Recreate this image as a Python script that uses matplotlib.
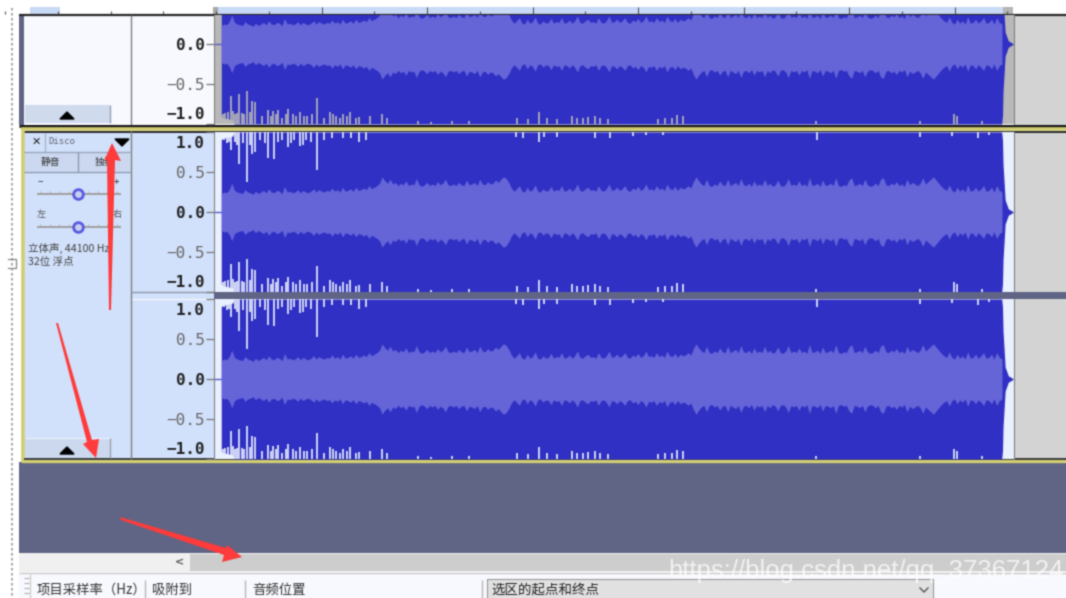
import numpy as np
import matplotlib
matplotlib.use('Agg')
import matplotlib.pyplot as plt
from matplotlib.patches import Rectangle, Polygon
from matplotlib.transforms import Affine2D

plt.rcParams['font.family'] = ['Noto Sans CJK SC', 'DejaVu Sans']

# 音量包络 (rms), 每 0.25 秒一个值
rms_amp = [
    .23, .25, .24, .28, .36, .27, .25, .24, .23, .28, .25, .24, .22, .26, .23, .25,
    .27, .24, .29, .25, .24, .27, .26, .23, .32, .25, .26, .24, .25, .28, .24, .27,
    .25, .24, .26, .29, .25, .28, .26, .25, .27, .26, .30, .26, .28, .25, .31, .26,
    .27, .29, .26, .31, .27, .28, .30, .28, .33, .29, .31,
    .33, .36, .44, .39, .36, .41, .35, .37, .33, .36, .34, .39, .33, .35, .34, .42,
    .34, .32, .34, .37, .33, .35, .33, .38, .34, .36, .41, .34, .33, .35, .33, .37,
    .34, .33, .40, .34, .35, .37, .33, .41, .35, .34, .38, .35, .36, .40, .37, .41,
    .44, .42,
    .37, .30, .26, .29, .33, .26, .25, .31, .26, .28, .34, .26, .25, .29, .26, .27,
    .32, .26, .28, .27, .33, .26, .27, .30, .26, .29, .35, .27, .26, .29, .31, .27,
    .28, .26, .33, .27, .26, .29, .35, .27, .28, .31, .27, .29, .33, .27, .26, .30,
    .28, .32, .27, .29, .35, .28, .29, .27, .33, .28, .30, .27, .35, .29, .28, .32,
    .27, .31, .29, .30, .33, .30,
    .38, .44, .39, .35, .33, .41, .33, .32, .35, .33, .39, .34, .33, .41, .33, .35,
    .37, .33, .42, .34, .33, .36, .32, .39, .33, .35, .33, .41, .33, .36, .32, .34,
    .40, .33, .32, .35, .42, .33, .35, .33, .39, .33, .35, .32, .43, .33, .34, .36,
    .32, .40, .33, .34, .36, .33, .43, .33, .32, .34, .33, .40, .43, .33, .34, .36,
    .33, .41, .34, .32, .33, .36, .33, .41, .43, .34, .33, .36, .34, .38, .33, .35,
    .32, .41, .34, .37, .35, .33, .36, .43, .35, .38, .41, .44, .40, .36, .32, .29,
    .27, .34, .27, .25, .31, .26, .29, .25, .34, .26, .27, .31, .26, .29, .33, .26,
    .27, .31, .25, .33, .27, .25,
]
rms_time = 0.5 + 0.25 * np.arange(len(rms_amp))

# 峰值包络
peak_time = [0.5, 0.6, 1.0, 1.6, 1.7, 74.47, 74.55, 74.6, 74.8, 75.1, 75.55]
peak_amp = [0.90, 0.92, 0.93, 0.95, 1.0, 1.0, 0.9, 0.6, 0.15, 0.04, 0.005]

# 顶部/底部的尖峰: 时间 和 尖峰到达的幅度
top_t = [0.8, 1.0, 1.2, 1.42, 1.8, 2.0, 2.2, 2.6, 2.97, 3.2, 3.4, 3.7, 4.2, 4.6, 4.96,
         5.5, 5.9, 6.3, 6.85, 7.1, 7.4, 7.96, 8.2, 8.5, 9.0, 9.54, 10.2, 11.0, 12.0,
         12.8, 13.6, 14.2,
         28.4, 29.1, 30.6, 31.1, 32.3, 35.9, 37.3, 39.5, 40.8, 42.4,
         57.0, 66.7, 69.8, 72.2, 73.3]
top_lv = [.90, .86, .88, .77, .88, .84, .60, .86, .375, .84, .73, .75, .90, .86, .675,
          .66, .88, .90, .81, .86, .90, .825, .84, .90, .88, .52, .90, .92, .92,
          .93, .88, .90,
          .94, .93, .875, .94, .94, .93, .93, .95, .96, .96,
          .90, .94, .95, .92, .96]
bot_t = [0.7, 0.9, 1.1, 1.42, 1.6, 1.8, 2.0, 2.2, 2.5, 2.7, 2.97, 3.2, 3.4, 3.7, 4.4, 4.96,
         5.2, 5.4, 5.7, 5.9, 6.3, 6.6, 6.85, 7.3, 7.6, 7.96, 8.3, 8.6, 9.1, 9.54, 10.2,
         10.8, 11.1, 11.4, 11.8, 12.0, 12.4, 12.7, 13.3, 13.6, 14.6, 15.7, 16.2,
         19.1, 20.4, 22.4, 24.0,
         28.5, 29.6, 30.6, 31.4, 32.3, 33.7, 34.2, 34.8, 35.3, 35.9, 36.4, 37.2,
         41.9, 42.6, 43.2, 43.7, 44.3,
         56.9, 66.7, 70.0, 70.2, 72.6]
bot_lv = [-.88, -.86, -.85, -.646, -.84, -.88, -.86, -.625, -.86, -.88, -.583, -.85, -.71, -.73, -.90, -.83,
          -.90, -.84, -.88, -.83, -.92, -.88, -.81, -.88, -.90, -.85, -.90, -.90, -.87, -.675, -.92,
          -.85, -.88, -.90, -.92, -.88, -.90, -.85, -.93, -.91, -.90, -.88, -.93,
          -.96, -.97, -.96, -.96,
          -.93, -.94, -.854, -.93, -.94, -.90, -.93, -.92, -.91, -.90, -.92, -.94,
          -.94, -.92, -.93, -.89, -.90,
          -.96, -.96, -.88, -.90, -.96]

y_ticks = [-1.0, -0.5, 0.0, 0.5, 1.0]
y_labels = ['\u22121.0', '\u22120.5', '0.0', '0.5', '1.0']

sel_bg = '#D2E1FB'
strip_bg = '#E9F0FE'
dark_wave = '#3030C4'
light_wave = '#6565D9'
slate = '#616585'
grey_bg = '#D3D3D3'
panel_white = '#F8F9FE'


def blur(img, dpi):
    # 原图是放大过的截图, 整张图稍微糊一点
    k = np.array([0.2, 0.6, 0.2])
    out = np.pad(img, ((2, 2), (2, 2), (0, 0)), mode='edge')
    for axis in (0, 1):
        out = np.apply_along_axis(lambda m: np.convolve(m, k, mode='same'), axis, out)
    return out[2:-2, 2:-2], 0, 0


fig = plt.figure(figsize=(10.66, 5.98), dpi=100, facecolor='white')
bg = fig.add_axes([0, 0, 1, 1], zorder=0)
bg.set_xlim(0, 1066)
bg.set_ylim(598, 0)
bg.axis('off')


def box(x0, y0, x1, y1, color, **kw):
    bg.add_patch(Rectangle((x0, y0), x1 - x0, y1 - y0, facecolor=color, edgecolor='none', **kw))


def hline(y, x0, x1, color='#222222', lw=1.0):
    bg.plot([x0, x1], [y, y], color=color, lw=lw, solid_capstyle='butt')


def vline(x, y0, y1, color='#808080', lw=1.0):
    bg.plot([x, x], [y0, y1], color=color, lw=lw, solid_capstyle='butt')


# 时间标尺
box(218, 7, 1003, 14, '#C9DAF6')
box(30, 7, 60, 14, '#C9DAF6')
for i in range(-4, 16):
    x = 216 + i * 52.75
    major = i % 2 == 0 and x > 216
    vline(x, 14, 7 if major else 11, '#555555', 0.8)
box(213, 7, 218, 14, '#A8A8A8')
box(1003, 7, 1013, 14, '#B5B5B5')
hline(14.5, 19, 1066, '#2A2A2A', 1.6)

# 上面那条轨道
box(19, 15, 24, 125, slate)
box(24, 15, 214, 125, panel_white)
vline(131, 15, 125)
box(1014, 15, 1066, 125, grey_bg)
box(25, 105, 110, 123, '#D0DAEE')
vline(110, 105, 123, '#9AA0B0')
bg.add_patch(Polygon([[60, 119], [74, 119], [67, 112]], color='black'))

# 选中的轨道
box(24, 131, 132, 460, sel_bg)
box(132, 131, 214, 460, sel_bg)
box(1014, 131, 1066, 460, grey_bg)
hline(125.5, 19, 1066, '#1A1A1A', 2.2)
hline(129, 21, 1066, '#D2CE72', 2.6)
hline(131.5, 24, 1066, '#2A2A2A', 1.4)
vline(22.5, 128, 462, '#D2CE72', 2.6)
hline(460.8, 21, 1066, '#D2CE72', 2.4)
hline(459, 24, 1066, '#222222', 1.2)
vline(131, 131, 459)

bg.text(36, 142, '\u2715', ha='center', va='center', fontsize=8, color='#222222', family=['DejaVu Sans'], weight='bold')
bg.text(48, 142, 'Disco', ha='left', va='center', fontsize=6.5, color='#666677', family=['DejaVu Sans Mono'])
bg.add_patch(Polygon([[115, 139], [129, 139], [122, 146]], color='black'))
vline(45, 133, 152, '#A8B4C8')
hline(152, 24, 131, '#9AA6BC')
hline(172, 24, 131, '#8F99AE')
vline(78, 152, 172, '#8F99AE')
box(25, 153, 78, 171, '#CBD8F0')
box(79, 153, 130, 171, '#CBD8F0')
bg.text(50, 162, '静音', ha='center', va='center', fontsize=7, color='#333333')
bg.text(104, 162, '独奏', ha='center', va='center', fontsize=7, color='#333333')

bg.text(40, 182, '\u2212', ha='center', va='center', fontsize=7, color='#333333')
bg.text(116, 182, '+', ha='center', va='center', fontsize=7, color='#333333')
bg.text(41, 215, '左', ha='center', va='center', fontsize=6.5, color='#555555')
bg.text(117, 215, '右', ha='center', va='center', fontsize=6.5, color='#555555')
for y in (194, 227):
    hline(y, 37, 121, '#A0A0A0', 1.4)
    for i in range(9):
        vline(40 + i * 9.6, y - 3, y, '#A8A8A8', 0.6)
    bg.plot([78], [y], 'o', ms=7, mfc='#C6D0F0', mec='#5A5AE0', mew=2)
bg.text(28, 248, '立体声, 44100 Hz', ha='left', va='center', fontsize=7.6, color='#444444')
bg.text(28, 262, '32位 浮点', ha='left', va='center', fontsize=7.6, color='#444444')

box(25, 438, 110, 458, '#CCD8EE')
hline(438, 25, 110, '#E8EFFC', 1.0)
vline(110, 438, 458, '#9AA0B0')
bg.add_patch(Polygon([[60, 454], [74, 454], [67, 447]], color='black'))

# 两个声道中间
hline(291.5, 131, 214, '#8F99AE', 1.0)
hline(299, 132, 214, '#F2F6FF', 1.0)

# 下方空白 / 滚动条 / 工具栏
box(19, 462, 1066, 553, slate)
box(19, 553, 1066, 572, '#F0F0F0')
box(190, 554, 1066, 571, '#CDCDCD')
bg.text(180, 562, '<', ha='center', va='center', fontsize=8, color='#555555', family=['DejaVu Sans'], weight='bold')
box(19, 573, 1066, 598, panel_white)
hline(572.5, 19, 1066, '#C8C8C8', 1.0)
for y in (578, 583, 588, 593):
    hline(y, 24, 29, '#B0B0B0', 0.8)
vline(30, 574, 598, '#D0D0D0')
vline(145, 580, 598, '#B8B8B8')
vline(245, 580, 598, '#B8B8B8')
vline(482, 580, 598, '#B8B8B8')
box(487, 579, 933, 600, '#E1E1E1')
bg.add_patch(Rectangle((487, 579), 446, 21, fill=False, edgecolor='#9A9A9A', lw=0.8))
bg.text(37, 590, '项目采样率（Hz）', ha='left', va='center', fontsize=9.6, color='#333333')
bg.text(152, 590, '吸附到', ha='left', va='center', fontsize=9.6, color='#333333')
bg.text(252, 590, '音频位置', ha='left', va='center', fontsize=9.6, color='#333333')
bg.text(491, 590, '选区的起点和终点', ha='left', va='center', fontsize=9.7, color='#222222')
bg.plot([920, 924, 928], [588, 592, 588], color='#555555', lw=1.0)

# 左边虚线和小方块
bg.plot([12, 12], [8, 598], color='#9A9A9A', lw=1.2, ls=(0, (1.5, 1.5)))
bg.plot([8, 16, 16, 8], [259, 259, 268, 268], color='#888888', lw=0.9)


def add_channel(y_top, y_bottom, ymax, ymin, face):
    # 每个声道一个 axes, x 是秒, y 是幅度
    ax = fig.add_axes([214 / 1066, 1 - y_bottom / 598, 800 / 1066, (y_bottom - y_top) / 598],
                      facecolor=face, zorder=1)
    ax.set_xlim((214 - 216) / 10.55, (1014 - 216) / 10.55)
    ax.set_ylim(ymin, ymax)
    ax.fill_between(peak_time, -np.array(peak_amp), peak_amp, color=dark_wave, lw=0)
    ax.fill_between(rms_time, -np.array(rms_amp), rms_amp, color=light_wave, lw=0)
    ax.vlines(top_t, top_lv, 1.0, color=face, lw=1.2)
    ax.vlines(bot_t, -1.0, bot_lv, color=face, lw=1.2)
    ax.plot([(214 - 216) / 10.55, 0.5], [0, 0], color='#5A5AD8', lw=1.0)
    for s in ax.spines.values():
        s.set_visible(False)
    ax.spines['left'].set_visible(True)
    ax.spines['left'].set_color('#808080')
    ax.spines['right'].set_visible(True)
    ax.spines['right'].set_color('#808080')
    ax.set_xticks([])
    ticks = [t for t in y_ticks if ymin <= t <= ymax]
    ax.set_yticks(ticks)
    ax.set_yticklabels([y_labels[y_ticks.index(t)] for t in ticks],
                       family=['DejaVu Sans Mono'], fontsize=11.5)
    ax.tick_params(axis='y', direction='out', length=6, width=0.9, color='#777777', pad=0.6)
    for t, lab in zip(ticks, ax.get_yticklabels()):
        if abs(t) == 0.5:
            lab.set_color('#666666')
        else:
            lab.set_fontweight('bold')
            lab.set_color('#222222')
        if t == 1.0:
            lab.set_va('top')
            lab.set_transform(lab.get_transform() + Affine2D().translate(0, -4))
        if t == -1.0:
            lab.set_va('bottom')
            lab.set_transform(lab.get_transform() + Affine2D().translate(0, 2))
    return ax


add_channel(15, 124, 0.3625, -1.0, '#B8B8B8')
add_channel(132, 292, 1.0, -1.0, strip_bg)
add_channel(299, 459, 1.0, -1.0, strip_bg)

# 声道之间的深色条 (盖在波形上层)
front = fig.add_axes([0, 0, 1, 1], zorder=2)
front.set_xlim(0, 1066)
front.set_ylim(598, 0)
front.axis('off')
front.patch.set_alpha(0)
front.add_patch(Rectangle((214, 292), 852, 7, facecolor=slate, edgecolor='none'))

# 红色箭头
arrows = [
    [[109, 310], [107, 160], [104, 161], [112, 143], [121, 161], [115, 160], [111, 310]],
    [[56, 323], [87, 442], [83, 444], [96, 458], [99, 439], [92, 440], [58, 323]],
    [[120, 517], [226, 548], [227, 545], [242, 557], [222, 562], [224, 555], [121, 520]],
]
for pts in arrows:
    front.add_patch(Polygon(pts, closed=True, facecolor='#FF3B3B', edgecolor='none'))

# 水印
front.text(668, 571, 'https://blog.csdn.net/qq_37367124', ha='left', va='center', fontsize=18.5,
           family=['Liberation Sans'], color='white', alpha=0.75)

fig.set_agg_filter(blur)
plt.savefig('out.png', dpi=100)
